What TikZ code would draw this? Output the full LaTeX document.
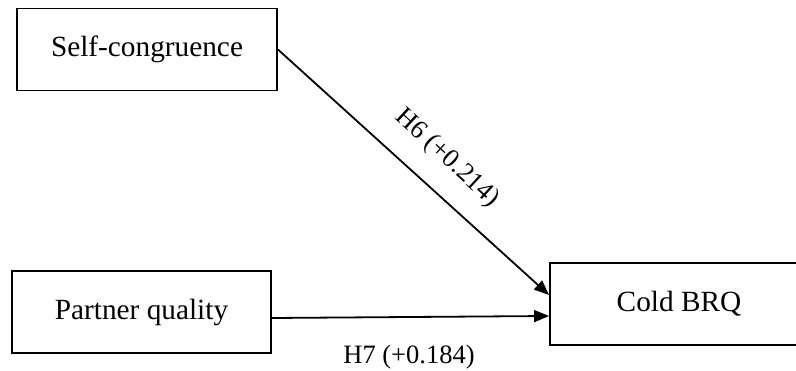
\documentclass[tikz,border=0pt]{standalone}
\usepackage{fontspec}
\setmainfont{Liberation Serif}
\usetikzlibrary{arrows.meta}
\begin{document}
\begin{tikzpicture}[x=1pt,y=-1pt,
  box/.style={draw,line width=1.9pt,minimum width=#1,minimum height=82pt,inner sep=0pt,font=\fontsize{29.3}{34}\selectfont},
  conn/.style={line width=1.8pt,-{Triangle[length=15pt,width=12pt]}},
  lbl/.style={font=\fontsize{26.5}{30}\selectfont,inner sep=0pt}]
\clip (0,0) rectangle (796,371);
\node[box=260pt] (sc) at (147,49.5) {Self-congruence};
\node[box=259pt] (pq) at (141.5,312) {Partner quality};
\node[box=258pt] (cb) at (679,304) {Cold BRQ};
\draw[conn] (sc.east) -- ([yshift=9pt]cb.west);
\draw[conn] ([yshift=-6pt]pq.east) -- ([yshift=-12pt]cb.west);
\node[lbl,rotate=-42.6] (l6) at (447,158) {H6 (+0.214)};
\node[lbl] (l7) at (409,357) {H7 (+0.184)};
\end{tikzpicture}
\end{document}
